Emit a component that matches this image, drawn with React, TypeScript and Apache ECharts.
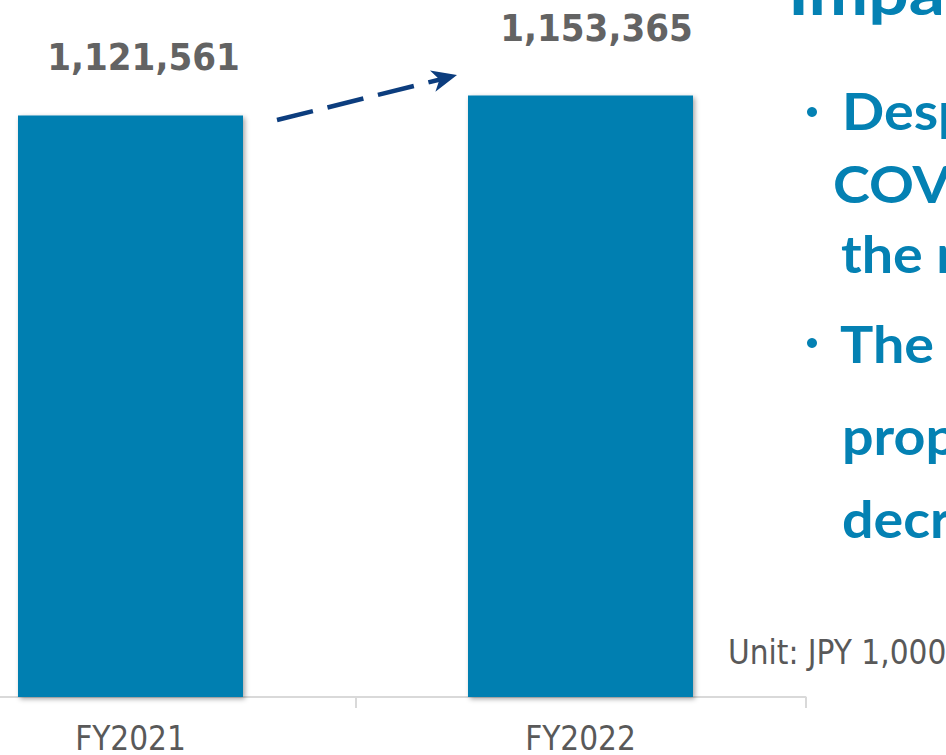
import React, { useEffect, useRef } from "react";
import * as echarts from "echarts";

// ---- data ----
const categories = ["FY2021", "FY2022"];
const salesValues = [1121561, 1153365];
const unitText = "Unit: JPY 1,000";
const titleText = "Impact";
const bulletParagraphs = [
  ["Despite the", "COVID-19", "the number"],
  ["The average", "proportion", "decreased"],
];

// ---- styles / layout (kept apart from data) ----
const OX = 95; // chart canvas starts 95px left of the visible page
const labelDistance = [39, 48];
const labelShiftX = [13, 16];
const condensed = "'DejaVu Sans Condensed', 'DejaVu Sans', Verdana, sans-serif";
const headFont = "Lato, 'Noto Sans', sans-serif";
const blue = "#0481B3";
const barBlue = "#027FB1";
const textScaleX = 1.07;
const titleScaleX = 1.15;

export default function App() {
  const ref = useRef<HTMLDivElement>(null);

  useEffect(() => {
    const chart = echarts.init(ref.current!, null, { renderer: "svg" });

    const lineBaselines = [[130, 203, 273], [363, 455, 538]];
    const lineX = [[842, 833, 841], [840, 842, 842]];
    const bulletY = [112, 343];
    const textGraphics: any[] = [];
    bulletParagraphs.forEach((lines, p) => {
      textGraphics.push({
        type: "circle",
        shape: { cx: 812 + OX, cy: bulletY[p], r: 5 },
        style: { fill: blue },
      });
      lines.forEach((t, i) => {
        textGraphics.push({
          type: "text",
          x: lineX[p][i] + OX,
          y: lineBaselines[p][i] - 0.387 * 52,
          scaleX: textScaleX,
          style: {
            text: t,
            fill: blue,
            font: `bold 52px ${headFont}`,
            align: "left",
            verticalAlign: "middle",
          },
        });
      });
    });

    chart.setOption({
      animation: false,
      backgroundColor: "#ffffff",
      grid: { left: 0.5, right: 140.5, top: 66, bottom: 53, containLabel: false },
      xAxis: {
        type: "category",
        data: categories,
        boundaryGap: true,
        axisLine: { show: true, lineStyle: { color: "#D9D9D9", width: 2 } },
        axisTick: { show: true, length: 11, lineStyle: { color: "#D9D9D9", width: 2 } },
        axisLabel: {
          color: "#595959",
          fontSize: 33,
          fontFamily: condensed,
          margin: 25,
        },
      },
      yAxis: {
        type: "value",
        min: 200000,
        max: 1200000,
        show: false,
        splitLine: { show: false },
      },
      series: [
        {
          type: "bar",
          barWidth: 225,
          data: salesValues.map((v, i) => ({
            value: v,
            label: { distance: labelDistance[i], offset: [labelShiftX[i], 0] },
          })),
          itemStyle: {
            color: barBlue,
            shadowBlur: 5,
            shadowOffsetX: 2,
            shadowOffsetY: 2,
            shadowColor: "rgba(0,0,0,0.35)",
          },
          label: {
            show: true,
            position: "top",
            formatter: (p: any) => Number(p.value).toLocaleString("en-US"),
            fontSize: 38,
            fontWeight: "bold",
            fontFamily: condensed,
            color: "#636363",
          },
        },
      ],
      graphic: [
        {
          type: "line",
          shape: { x1: 277 + OX, y1: 120, x2: 440 + OX, y2: 79.5 },
          style: { stroke: "#0C3D7E", lineWidth: 4.5, lineDash: [37, 15] },
        },
        {
          type: "polygon",
          shape: {
            points: [
              [457 + OX, 75],
              [430 + OX, 70.4],
              [439.5 + OX, 79.4],
              [435.4 + OX, 91.8],
            ],
          },
          style: { fill: "#0C3D7E" },
        },
        {
          type: "text",
          x: 788 + OX,
          y: 15 - 0.387 * 62,
          scaleX: titleScaleX,
          style: {
            text: titleText,
            fill: blue,
            font: `bold 62px ${headFont}`,
            align: "left",
            verticalAlign: "middle",
          },
        },
        ...textGraphics,
        {
          type: "text",
          x: 728 + OX,
          y: 652,
          style: {
            text: unitText,
            fill: "#595959",
            font: `33px ${condensed}`,
            align: "left",
            verticalAlign: "middle",
          },
        },
      ],
    });

    return () => chart.dispose();
  }, []);

  return (
    <div
      style={{
        position: "fixed",
        left: 0,
        top: 0,
        width: 946,
        height: 755,
        overflow: "hidden",
        background: "#fff",
      }}
    >
      <div
        ref={ref}
        style={{ position: "absolute", left: -OX, top: 0, width: 946 + OX, height: 755 }}
      />
    </div>
  );
}
